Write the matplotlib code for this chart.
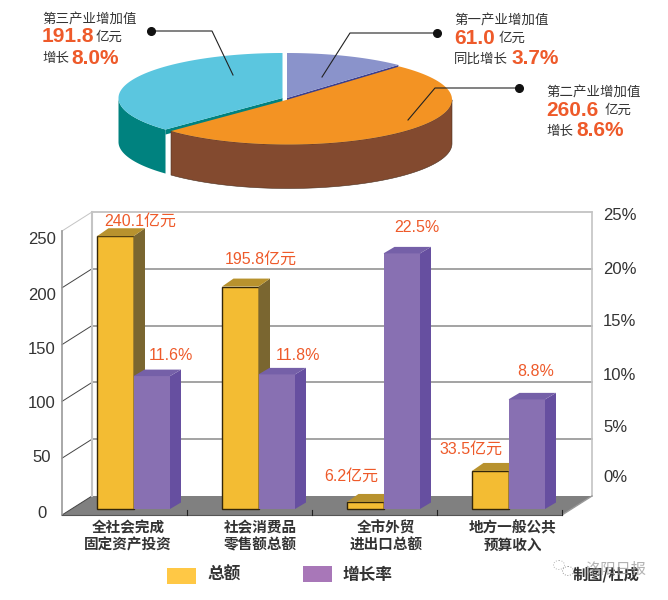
import numpy as np
import matplotlib
matplotlib.use("Agg")
import matplotlib.pyplot as plt
from matplotlib.patches import Polygon, Rectangle, Ellipse

# pie: share of added value
pie_names = ["第一产业增加值", "第二产业增加值", "第三产业增加值"]
pie_values = [61.0, 260.6, 191.8]
pie_growth = ["3.7%", "8.6%", "8.0%"]

# bars
categories = ["全社会完成\n固定资产投资", "社会消费品\n零售额总额", "全市外贸\n进出口总额", "地方一般公共\n预算收入"]
totals = [240.1, 195.8, 6.2, 33.5]
rates = [11.7, 11.85, 22.5, 9.65]   # percent, heights as drawn, last one is taller than its label
total_labels = ["240.1亿元", "195.8亿元", "6.2亿元", "33.5亿元"]
rate_labels = ["11.6%", "11.8%", "22.5%", "8.8%"]
left_ticks = [0, 50, 100, 150, 200, 250]
right_ticks = ["0%", "5%", "10%", "15%", "20%", "25%"]

ORANGE = "#EE5A2A"
CJK = ["Noto Sans CJK SC", "DejaVu Sans"]
NUM = ["Liberation Sans", "Noto Sans CJK SC"]
W, H = 668, 600

fig = plt.figure(figsize=(W / 100, H / 100), dpi=100)

# bar axes: x is category index, y is the left scale, 1 unit = 1.136 px
X0, X1, Y0, Y1 = 62, 562, 509, 225
ax = fig.add_axes([X0 / W, (H - Y0) / H, (X1 - X0) / W, (Y0 - Y1) / H])
ax.set_xlim(-0.5, 3.5)
ax.set_ylim(0, 250)
ax.axis("off")
ux = 4 / (X1 - X0)
uy = 250 / (Y0 - Y1)
rate_scale = 250 / 25  # right axis, 25% sits level with 250

floor_front = -6 * uy
depth_x, depth_y = 30 * ux, 19 * uy
back = floor_front + depth_y
xl, xr = -0.5, 3.5

# floor and walls
ax.add_patch(Polygon([(xl, floor_front), (xr, floor_front), (xr + depth_x, back), (xl + depth_x, back)],
                     fc="#808080", ec="none", clip_on=False, zorder=1))
for k in range(1, 6):
    yy = back + 50 * k
    ax.plot([xl + depth_x, xr + depth_x], [yy, yy], color="#b8b8b8" if k == 5 else "#8a8a8a",
            lw=1.1, clip_on=False, zorder=1)
for k in range(0, 6):
    yy = floor_front + 50 * k
    ax.plot([xl, xl + depth_x], [yy, yy + depth_y], color="#c4c4c4" if k == 5 else "#444444",
            lw=0.7, clip_on=False, zorder=1)
ax.plot([xl, xl], [floor_front, floor_front + 250], color="#999999", lw=1.2, clip_on=False, zorder=1)
ax.plot([xl + depth_x] * 2, [back, back + 250], color="#c4c4c4", lw=1.5, clip_on=False, zorder=1)
ax.plot([xr + depth_x] * 2, [back, back + 250], color="#c4c4c4", lw=1.2, clip_on=False, zorder=1)
ax.plot([xr, xr + depth_x], [floor_front, back], color="#999999", lw=1, clip_on=False, zorder=1)
ax.plot([xl, xr], [floor_front, floor_front], color="#555555", lw=0.8, clip_on=False, zorder=1)
for k in range(1, 5):
    ax.plot([xl + k] * 2, [floor_front, floor_front + 5 * uy], color="#222222", lw=0.8, clip_on=False, zorder=2)


def bar3d(x, h, w, front, side, top, ec, sx, sy, z):
    # front face through bar, side and top are drawn as polygons
    ax.bar(x, h, width=w, align="edge", color=front, edgecolor=ec, linewidth=1, zorder=z, clip_on=False)
    ax.add_patch(Polygon([(x + w, 0), (x + w + sx, sy), (x + w + sx, h + sy), (x + w, h)],
                         fc=side, ec="none", zorder=z, clip_on=False))
    ax.add_patch(Polygon([(x, h), (x + sx, h + sy), (x + w + sx, h + sy), (x + w, h)],
                         fc=top, ec="none", zorder=z, clip_on=False))


bw = 36.5 * ux
for i in range(4):
    base = i + 9 * ux
    bar3d(base - bw, totals[i], bw, "#F3BC33", "#7A6630", "#B8922E", "#33260a", 11.5 * ux, 8 * uy, 3)
    bar3d(base, rates[i] * rate_scale, bw, "#8870B2", "#664FA0", "#7560A8", "none", 11 * ux, 6.5 * uy, 4)

# overlay in picture pixels for the pie and the texts
ov = fig.add_axes([0, 0, 1, 1], zorder=5)
ov.set_xlim(0, W)
ov.set_ylim(H, 0)
ov.axis("off")
ov.patch.set_alpha(0)

# pie, angles clockwise from 12 o'clock
cx, cy, rx, ry, thick = 287, 98, 164, 45, 44
edges = np.cumsum([0] + pie_values) / sum(pie_values) * 2 * np.pi
order = [(0, (0, 0), "#8A93CB", "#3B3F8F"), (2, (-4.5, 0), "#5BC6DF", "#00827F"), (1, (1, 1.5), "#F39323", "#834A2F")]
for idx, (ox, oy), top_c, side_c in order:
    t = np.linspace(edges[idx], edges[idx + 1], 120)
    px_ = cx + ox + rx * np.sin(t)
    py_ = cy + oy - ry * np.cos(t)
    p0x, p0y = cx + ox, cy + oy
    # extruded body, then the top face over it
    if idx == 1:
        vis = t >= np.pi / 2
        ov.fill(np.r_[px_[vis], px_[vis][::-1]], np.r_[py_[vis], py_[vis][::-1] + thick],
                fc=side_c, ec="#4a3020", lw=0.4, zorder=1)
    elif idx == 2:
        vis = t <= 1.5 * np.pi
        ov.fill(np.r_[px_[vis], px_[vis][::-1]], np.r_[py_[vis], py_[vis][::-1] + thick],
                fc=side_c, ec="none", zorder=1)
        ov.fill([p0x, px_[0], px_[0], p0x], [p0y, py_[0], py_[0] + 5, p0y + 5], fc=side_c, ec="none", zorder=1)
    else:
        ov.fill([p0x, px_[-1], px_[-1], p0x], [p0y, py_[-1], py_[-1] + 5, p0y + 5], fc=side_c, ec="none", zorder=1)
    ov.fill(np.r_[p0x, px_], np.r_[p0y, py_], fc=top_c, ec="none", zorder=2)

# leader lines
leaders = [([437, 350, 322], [33, 33, 77]), ([519, 435, 408], [88, 88, 120]), ([151, 212, 233], [31, 31, 75])]
for xs, ys in leaders:
    ov.plot(xs, ys, color="#222222", lw=0.8, zorder=3)
    ov.plot(xs[0], ys[0], "o", color="#111111", ms=5.5, zorder=3)


def callout(x, y, name, val, head, pct, x_unit, x_pct):
    ov.text(x, y, name, family=CJK, fontsize=9.7, color="#333333", va="center")
    ov.text(x, y + 17, val, family=NUM, fontsize=15, weight="bold", color=ORANGE, va="center")
    ov.text(x_unit, y + 17, "亿元", family=CJK, fontsize=9.7, color="#333333", va="center")
    ov.text(x, y + 38, head, family=CJK, fontsize=9.7, color="#333333", va="center")
    ov.text(x_pct, y + 38, pct, family=NUM, fontsize=15, weight="bold", color=ORANGE, va="center")


callout(454, 21, pie_names[0], "%.1f" % pie_values[0], "同比增长", pie_growth[0], 499, 511)
callout(546, 93, pie_names[1], "%.1f" % pie_values[1], "增长", pie_growth[1], 605, 576)
callout(42, 20, pie_names[2], "%.1f" % pie_values[2], "增长", pie_growth[2], 96, 71)

# tick labels
for v, yy in zip(left_ticks, [513, 457, 403, 349, 295, 240]):
    ov.text(42, yy, str(v), family=NUM, fontsize=12, color="#333333", ha="center", va="center")
for s, yy in zip(right_ticks, [478, 428, 375, 322, 269, 215]):
    ov.text(603, yy, s, family=NUM, fontsize=12, color="#333333", ha="left", va="center")

# bar labels
for s, (xx, yy) in zip(total_labels, [(140, 221), (261, 259), (351, 476), (471, 449)]):
    ov.text(xx, yy, s, family=NUM, fontsize=11.5, color=ORANGE, ha="center", va="center")
for s, (xx, yy) in zip(rate_labels, [(171, 356), (298, 356), (417, 227), (536, 372)]):
    ov.text(xx, yy, s, family=NUM, fontsize=11.5, color=ORANGE, ha="center", va="center")

# category labels
for s, xx in zip(categories, [128, 260, 386, 513]):
    ov.text(xx, 536, s, family=CJK, fontsize=10.5, weight="bold", color="#333333", ha="center", va="center",
            linespacing=1.1)

# legend
ov.add_patch(Rectangle((167, 568), 29, 16, fc="#FFC845", ec="none"))
ov.add_patch(Rectangle((303, 566), 29, 16, fc="#A877B8", ec="none"))
ov.text(208, 575, "总额", family=CJK, fontsize=12, weight="bold", color="#333333", va="center")
ov.text(343, 575, "增长率", family=CJK, fontsize=12, weight="bold", color="#333333", va="center")

# credit under the watermark, they overlap in the source too
ov.add_patch(Ellipse((559, 565), 11, 9, fc="none", ec="#b5b5b5", lw=0.7, ls=":"))
ov.add_patch(Ellipse((568, 571), 11, 9, fc="white", ec="#9a9a9a", lw=0.7, ls=":"))
ov.text(606, 575, "制图/杜成", family=CJK, fontsize=11, weight="bold", color="#333333", ha="center", va="center")
ov.text(616, 569, "洛阳日报", family=CJK, fontsize=11, color="#9a9a9a", alpha=0.75, ha="center", va="center")

fig.savefig("out.png", dpi=100)
